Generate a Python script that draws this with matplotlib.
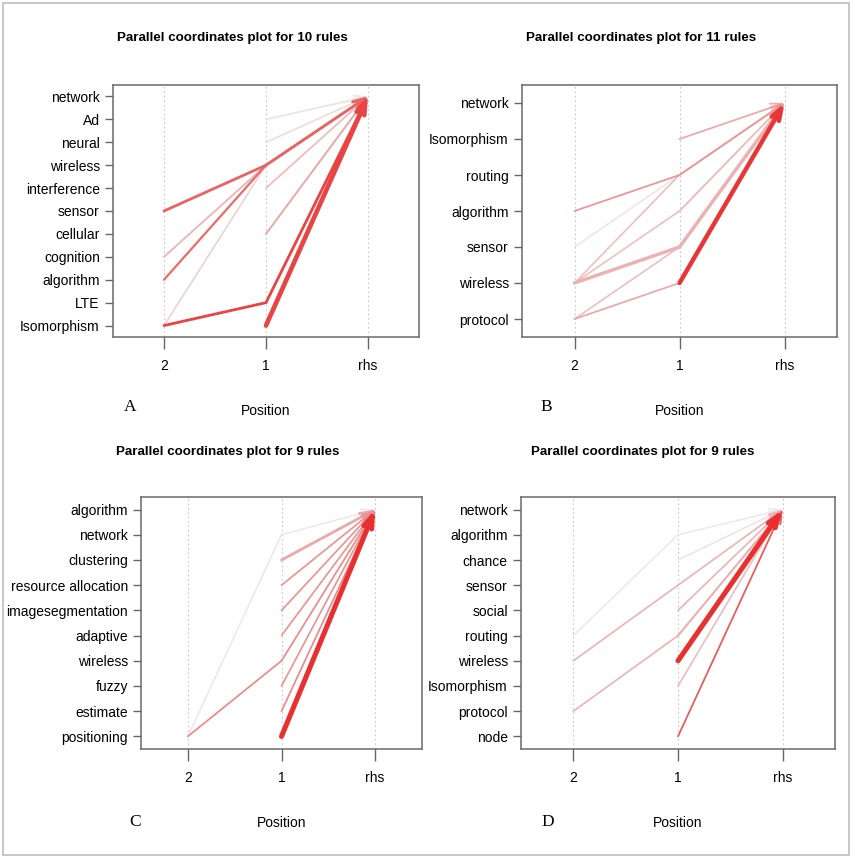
import numpy as np
import matplotlib
matplotlib.use("Agg")
import matplotlib.pyplot as plt
from matplotlib.patches import Rectangle

plt.rcParams['font.family'] = ['Liberation Sans Narrow', 'Liberation Sans', 'DejaVu Sans']

# ---- Panel A: 10 rules, rhs = network ----
a_items = ['Isomorphism', 'LTE', 'algorithm', 'cognition', 'cellular', 'sensor',
           'interference', 'wireless', 'neural', 'Ad', 'network']
a_rhs = 'network'
a_lhs2 = ['sensor', 'cognition', 'algorithm', 'Isomorphism', 'Isomorphism',
          None, None, None, None, None]
a_lhs1 = ['wireless', 'wireless', 'wireless', 'wireless', 'LTE',
          'Isomorphism', 'Ad', 'neural', 'interference', 'cellular']
a_support = [2.0, 1.0, 1.5, 0.8, 2.0, 3.8, 1.0, 1.0, 1.0, 1.2]
a_lift = [0.70, 0.30, 0.65, 0.15, 0.85, 0.85, 0.05, 0.08, 0.25, 0.35]

# ---- Panel B: 11 rules, rhs = network ----
b_items = ['protocol', 'wireless', 'sensor', 'algorithm', 'routing', 'Isomorphism', 'network']
b_rhs = 'network'
b_lhs2 = ['algorithm', 'sensor', 'wireless', 'wireless', 'wireless', 'protocol', 'protocol',
          None, None, None, None]
b_lhs1 = ['routing', 'routing', 'routing', 'algorithm', 'sensor', 'wireless', 'sensor',
          'Isomorphism', 'wireless', 'sensor', 'algorithm']
b_support = [1.0, 0.8, 0.8, 0.8, 2.6, 1.0, 0.8, 1.0, 3.6, 1.5, 0.8]
b_lift = [0.45, 0.05, 0.25, 0.25, 0.30, 0.35, 0.25, 0.35, 0.92, 0.30, 0.20]

# ---- Panel C: 9 rules, rhs = algorithm ----
c_items = ['positioning', 'estimate', 'fuzzy', 'wireless', 'adaptive', 'imagesegmentation',
           'resource allocation', 'clustering', 'network', 'algorithm']
c_rhs = 'algorithm'
c_lhs2 = ['positioning', 'positioning', None, None, None, None, None, None, None]
c_lhs1 = ['network', 'wireless', 'positioning', 'clustering', 'resource allocation',
          'imagesegmentation', 'adaptive', 'fuzzy', 'estimate']
c_support = [0.8, 1.0, 4.2, 2.0, 1.0, 1.0, 1.0, 1.0, 1.0]
c_lift = [0.03, 0.50, 0.95, 0.35, 0.45, 0.45, 0.45, 0.45, 0.50]

# ---- Panel D: 9 rules, rhs = network ----
d_items = ['node', 'protocol', 'Isomorphism', 'wireless', 'routing', 'social', 'sensor',
           'chance', 'algorithm', 'network']
d_rhs = 'network'
d_lhs2 = ['routing', 'wireless', 'protocol', None, None, None, None, None, None]
d_lhs1 = ['algorithm', 'sensor', 'routing', 'chance', 'social', 'wireless',
          'Isomorphism', 'node', 'routing']
d_support = [0.8, 0.9, 0.9, 0.8, 0.9, 4.2, 0.9, 1.0, 1.2]
d_lift = [0.03, 0.30, 0.30, 0.05, 0.30, 0.95, 0.25, 0.75, 0.30]

titles = ['Parallel coordinates plot for 10 rules', 'Parallel coordinates plot for 11 rules',
          'Parallel coordinates plot for 9 rules', 'Parallel coordinates plot for 9 rules']
x_labels = ['2', '1', 'rhs']
letters = ['A', 'B', 'C', 'D']

W, H = 855, 857
fig = plt.figure(figsize=(W / 100, H / 100), dpi=100)

# light frame around the whole figure
fig.patches.append(Rectangle((3 / W, 2 / H), 846 / W, 852 / H, transform=fig.transFigure,
                             fill=False, edgecolor='#BDBDBD', lw=1.2))

GRAY = np.array([0.93, 0.93, 0.93])
RED = np.array([0.91, 0.15, 0.15])


def shade(v):
    return tuple((1 - v) * GRAY + v * RED)


def px_axes(left, right, top, bottom):
    return fig.add_axes([left / W, 1 - bottom / H, (right - left) / W, (bottom - top) / H])


def panel(ax, items, rhs, lhs2, lhs1, support, lift):
    n = len(items)
    pos = {name: i + 1 for i, name in enumerate(items)}
    ax.set_xlim(0.5, 3.5)
    ax.set_ylim(0.5, n + 0.5)
    for x in (1, 2, 3):
        ax.axvline(x, color='#C8C8C8', lw=0.8, ls=(0, (1.5, 2.5)), zorder=0)
    order = np.argsort(lift)
    for i in order:
        col = shade(lift[i])
        lw = 0.5 + 0.75 * support[i]
        y1 = pos[lhs1[i]]
        if lhs2[i] is not None:
            ax.plot([1, 2], [pos[lhs2[i]], y1], color=col, lw=lw,
                    solid_capstyle='round', zorder=2)
        ax.annotate('', xy=(3, pos[rhs]), xytext=(2, y1),
                    arrowprops=dict(arrowstyle='->, head_length=0.7, head_width=0.25',
                                    color=col, lw=lw, shrinkA=0, shrinkB=0,
                                    mutation_scale=12),
                    zorder=3)
    ax.set_yticks(range(1, n + 1))
    ax.set_yticklabels(items, fontsize=10)
    ax.set_xticks([1, 2, 3])
    ax.set_xticklabels(x_labels, fontsize=10)
    ax.tick_params(axis='y', length=5.5, width=1.0, color='#666666', pad=4)
    ax.tick_params(axis='x', length=8.5, width=1.0, color='#666666', pad=7)
    for s in ax.spines.values():
        s.set_color('#6A6A6A')
        s.set_linewidth(1.1)
    ax.set_xlabel('Position', fontsize=10, labelpad=23)


boxes = [(113, 419, 85, 337), (522, 837, 85, 337), (141, 422, 497, 749), (521, 835, 497, 749)]
data = [(a_items, a_rhs, a_lhs2, a_lhs1, a_support, a_lift),
        (b_items, b_rhs, b_lhs2, b_lhs1, b_support, b_lift),
        (c_items, c_rhs, c_lhs2, c_lhs1, c_support, c_lift),
        (d_items, d_rhs, d_lhs2, d_lhs1, d_support, d_lift)]
title_pos = [(232, 38), (641, 38), (228, 452), (643, 452)]
letter_pos = [(130, 407), (546, 407), (135, 822), (548, 822)]

for box, d, tp, lp, title, letter in zip(boxes, data, title_pos, letter_pos, titles, letters):
    ax = px_axes(*box)
    panel(ax, *d)
    fig.text(tp[0] / W, 1 - tp[1] / H, title, fontsize=9.6, fontweight='bold',
             ha='center', va='center')
    fig.text(lp[0] / W, 1 - lp[1] / H, letter, fontsize=12.5,
             family=['Liberation Serif', 'DejaVu Serif'], ha='center', va='center')

fig.savefig('out.png', dpi=100, facecolor='white')
